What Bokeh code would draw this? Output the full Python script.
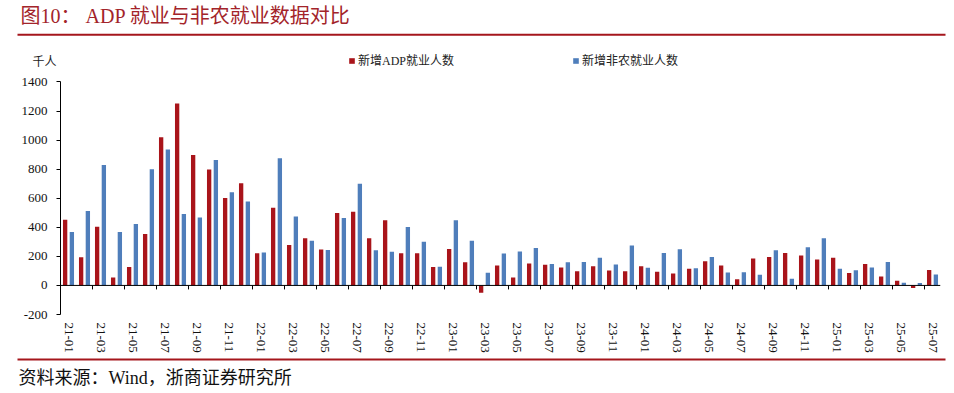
import math
from bokeh.plotting import figure
from bokeh.models import (Range1d, LinearAxis, FixedTicker, Label, Legend, LegendItem,
                          BoxAnnotation, ColumnDataSource, Span, Plot)
from bokeh.transform import dodge
from bokeh.layouts import column
from bokeh.embed import file_html
from bokeh.resources import INLINE

# ---------------- data ----------------
months = ["21-01", "21-02", "21-03", "21-04", "21-05", "21-06", "21-07", "21-08", "21-09", "21-10", "21-11", "21-12",
          "22-01", "22-02", "22-03", "22-04", "22-05", "22-06", "22-07", "22-08", "22-09", "22-10", "22-11", "22-12",
          "23-01", "23-02", "23-03", "23-04", "23-05", "23-06", "23-07", "23-08", "23-09", "23-10", "23-11", "23-12",
          "24-01", "24-02", "24-03", "24-04", "24-05", "24-06", "24-07", "24-08", "24-09", "24-10", "24-11", "24-12",
          "25-01", "25-02", "25-03", "25-04", "25-05", "25-06", "25-07"]

adp = [452, 194, 404, 55, 126, 354, 1019, 1252, 898, 797, 601, 703,
       222, 534, 279, 324, 247, 498, 507, 324, 448, 222, 222, 126,
       251, 160, -50, 137, 55, 151, 142, 123, 98, 132, 103, 98,
       132, 94, 82, 114, 167, 137, 43, 185, 196, 224, 206, 178,
       190, 85, 148, 62, 32, -18, 107]

nfp = [368, 512, 829, 368, 423, 799, 936, 491, 468, 863, 642, 578,
       226, 875, 475, 308, 244, 464, 699, 242, 231, 402, 301, 128,
       448, 308, 87, 219, 233, 258, 148, 160, 162, 190, 144, 274,
       121, 224, 249, 119, 196, 89, 91, 73, 242, 46, 263, 324,
       114, 105, 123, 162, 18, 16, 75]

y_ticks = [-200, 0, 200, 400, 600, 800, 1000, 1200, 1400]
y_tick_labels = ["-200", "0", "200", "400", "600", "800", "1000", "1200", "1400"]

series_names = ["新增ADP就业人数", "新增非农就业人数"]
unit_label = "千人"
title_text = "图10： ADP 就业与非农就业数据对比"
source_text = "资料来源：Wind，浙商证券研究所"

# ---------------- styles ----------------
FONT = "Liberation Serif, Noto Sans CJK SC"
RED = "#A9141A"
BLUE = "#4F7EBB"
RULE = "#A5161C"
TITLE_COLOR = "#A3242A"
W = 954

extra = {}
if "frame_align" in Plot.properties():
    extra["frame_align"] = False


def blank(height):
    f = figure(width=W, height=height, x_range=Range1d(0, W), y_range=Range1d(0, height),
               output_backend="svg", toolbar_location=None, x_axis_type=None, y_axis_type=None,
               min_border=0, outline_line_color=None, **extra)
    f.background_fill_color = "white"
    f.border_fill_color = "white"
    return f


n = len(months)
src = ColumnDataSource(dict(idx=list(range(n)), adp=adp, nfp=nfp))

# ---------------- title strip (title, rule, unit, legend) ----------------
TOP_H = 70
top = blank(TOP_H)
top.add_layout(Label(x=20, y=TOP_H - 15.5, x_units="screen", y_units="screen", text=title_text,
                     text_baseline="middle", text_font=FONT, text_font_size="20px",
                     text_color=TITLE_COLOR))
top.add_layout(BoxAnnotation(left=17, right=945, bottom=TOP_H - 35.3, top=TOP_H - 33.3,
                             fill_color=RULE, fill_alpha=1, line_color=None))
top.add_layout(Label(x=32, y=TOP_H - 61, x_units="screen", y_units="screen", text=unit_label,
                     text_baseline="middle", text_font=FONT, text_font_size="12px",
                     text_color="#222222"))

proxy_adp = top.vbar(x="idx", top="adp", width=0.27, source=src, fill_color=RED,
                     line_color=None, visible=False)
proxy_nfp = top.vbar(x="idx", top="nfp", width=0.27, source=src, fill_color=BLUE,
                     line_color=None, visible=False)
for rend, name, x0 in [(proxy_adp, series_names[0], 348), (proxy_nfp, series_names[1], 572)]:
    leg = Legend(items=[LegendItem(label=name, renderers=[rend])], location=(x0, 1),
                 orientation="horizontal", glyph_width=7, glyph_height=7, label_standoff=3,
                 padding=0, margin=0, spacing=0, border_line_color=None,
                 background_fill_alpha=0, inactive_fill_alpha=0,
                 label_text_font=FONT, label_text_font_size="12px",
                 label_text_color="#222222")
    top.add_layout(leg, "center")

# ---------------- main chart ----------------
MAIN_H = 285
px_per_unit = 0.14593
frame_h = MAIN_H - 40
p = figure(width=W, height=MAIN_H, x_range=Range1d(-0.5, n - 0.5),
           y_range=Range1d(-200, -200 + frame_h / px_per_unit),
           output_backend="svg", toolbar_location=None, x_axis_type=None, y_axis_type=None,
           min_border_left=60, min_border_right=14, min_border_top=0, min_border_bottom=40,
           outline_line_color=None, **extra)
p.background_fill_color = "white"
p.border_fill_color = "white"

p.vbar(x=dodge("idx", -0.21, range=p.x_range), top="adp", width=0.27, source=src,
       fill_color=RED, line_color=None)
p.vbar(x=dodge("idx", 0.21, range=p.x_range), top="nfp", width=0.27, source=src,
       fill_color=BLUE, line_color=None)

yaxis = LinearAxis(ticker=FixedTicker(ticks=y_ticks), bounds=(-200, 1400),
                   major_label_overrides={t: s for t, s in zip(y_ticks, y_tick_labels)},
                   major_tick_out=4, major_tick_in=0, minor_tick_line_color=None,
                   major_label_standoff=9, major_label_text_font=FONT,
                   major_label_text_font_size="13px", major_label_text_color="#111111",
                   axis_line_color="black", major_tick_line_color="black")
p.add_layout(yaxis, "left")

label_ticks = list(range(0, n, 2))
xlab = LinearAxis(ticker=FixedTicker(ticks=label_ticks),
                  major_label_overrides={i: months[i] for i in label_ticks},
                  major_label_orientation="vertical", axis_line_color=None,
                  major_tick_line_color=None, minor_tick_line_color=None,
                  major_tick_out=0, major_tick_in=0,
                  major_label_standoff=8, major_label_text_font=FONT,
                  major_label_text_font_size="13px", major_label_text_color="#111111")
p.add_layout(xlab, "below")

# category axis line at zero with tick marks between every second pair of months
p.add_layout(Span(location=0, dimension="width", line_color="black", line_width=1))
bound_ticks = [i + 1.5 for i in range(0, n - 1, 2)]
p.ray(x=bound_ticks, y=[0] * len(bound_ticks), length=4, length_units="screen",
      angle=-math.pi / 2, line_color="black", line_width=1)

# ---------------- source strip ----------------
BOT_H = 38
bot = blank(BOT_H)
bot.add_layout(BoxAnnotation(left=17, right=945, bottom=BOT_H - 5, top=BOT_H - 3,
                             fill_color=RULE, fill_alpha=1, line_color=None))
bot.add_layout(Label(x=18, y=BOT_H - 22, x_units="screen", y_units="screen", text=source_text,
                     text_baseline="middle", text_font=FONT, text_font_size="18px",
                     text_color="#111111"))

layout = column(top, p, bot, spacing=0)
open("out.html", "w").write(file_html(layout, INLINE))
